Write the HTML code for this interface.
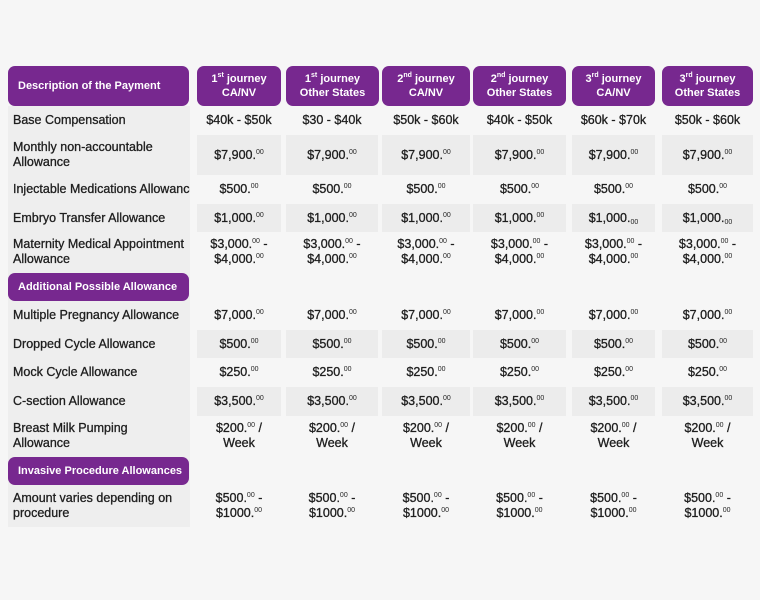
<!DOCTYPE html>
<html><head><meta charset="utf-8"><style>
body{margin:0;width:760px;height:600px;background:#f6f6f6;font-family:"Liberation Sans",sans-serif;position:relative;overflow:hidden}
.p{position:absolute;background:#77288f;border-radius:7px;color:#fff;font-weight:bold;font-size:11px;display:flex;align-items:center;justify-content:center;text-align:center;line-height:14px}
.p.l{justify-content:flex-start;padding-left:10px;box-sizing:border-box}
.c{position:absolute;display:flex;align-items:center;justify-content:center;text-align:center;font-size:12.5px;color:#1e1e1e;line-height:15px;-webkit-text-stroke:0.3px #1e1e1e}
.c.l{justify-content:flex-start;text-align:left;padding-left:5px;box-sizing:border-box;white-space:nowrap;overflow:hidden}
.s{background:#ececec}
sup{font-size:7px;vertical-align:5px;line-height:0;-webkit-text-stroke:0}
sub{font-size:7px;vertical-align:-2px;line-height:0;-webkit-text-stroke:0}
.lc{position:absolute;left:8px;top:106px;width:182px;height:421px;background:#eeeeee}
</style></head><body>
<div class="lc"></div>
<div class="p l" style="left:8px;top:66px;width:181px;height:40px"><span>Description of the Payment</span></div>
<div class="p" style="left:197px;top:66px;width:84px;height:40px"><span>1<sup>st</sup> journey<br>CA/NV</span></div>
<div class="p" style="left:286px;top:66px;width:93px;height:40px"><span>1<sup>st</sup> journey<br>Other States</span></div>
<div class="p" style="left:382px;top:66px;width:88px;height:40px"><span>2<sup>nd</sup> journey<br>CA/NV</span></div>
<div class="p" style="left:473px;top:66px;width:93px;height:40px"><span>2<sup>nd</sup> journey<br>Other States</span></div>
<div class="p" style="left:572px;top:66px;width:83px;height:40px"><span>3<sup>rd</sup> journey<br>CA/NV</span></div>
<div class="p" style="left:662px;top:66px;width:91px;height:40px"><span>3<sup>rd</sup> journey<br>Other States</span></div>
<div class="p l" style="left:8px;top:273px;width:181px;height:28px"><span>Additional Possible Allowance</span></div>
<div class="p l" style="left:8px;top:457px;width:181px;height:28px"><span>Invasive Procedure Allowances</span></div>
<div id="g"></div>
<script>
var cols=[[197,281],[286,378],[382,470],[473,566],[572,655],[662,753]];
var rows=[
[106,134,"Base Compensation",["$40k - $50k","$30 - $40k","$50k - $60k","$40k - $50k","$60k - $70k","$50k - $60k"],0],
[135,175,"Monthly non-accountable<br>Allowance","$7,900.<sup>00</sup>",1],
[175,203,"Injectable Medications Allowance","$500.<sup>00</sup>",0],
[204,232,"Embryo Transfer Allowance",["$1,000.<sup>00</sup>","$1,000.<sup>00</sup>","$1,000.<sup>00</sup>","$1,000.<sup>00</sup>","$1,000.<sub>00</sub>","$1,000.<sub>00</sub>"],1],
[232,272,"Maternity Medical Appointment<br>Allowance","$3,000.<sup>00</sup> -<br>$4,000.<sup>00</sup>",0],
[301,330,"Multiple Pregnancy Allowance","$7,000.<sup>00</sup>",0],
[330,358,"Dropped Cycle Allowance","$500.<sup>00</sup>",1],
[358,387,"Mock Cycle Allowance","$250.<sup>00</sup>",0],
[387,416,"C-section Allowance","$3,500.<sup>00</sup>",1],
[416,456,"Breast Milk Pumping<br>Allowance","$200.<sup>00</sup> /<br>Week",0],
[485,527,"Amount varies depending on<br>procedure","$500.<sup>00</sup> -<br>$1000.<sup>00</sup>",0]];
var h="";
rows.forEach(function(r){
 h+='<div class="c l" style="left:8px;top:'+r[0]+'px;width:182px;height:'+(r[1]-r[0])+'px"><span>'+r[2]+'</span></div>';
 cols.forEach(function(c,i){
  var v=Array.isArray(r[3])?r[3][i]:r[3];
  h+='<div class="c'+(r[4]?' s':'')+'" style="left:'+c[0]+'px;top:'+r[0]+'px;width:'+(c[1]-c[0])+'px;height:'+(r[1]-r[0])+'px"><span>'+v+'</span></div>';
 });
});
document.getElementById('g').innerHTML=h;
</script>
</body></html>
